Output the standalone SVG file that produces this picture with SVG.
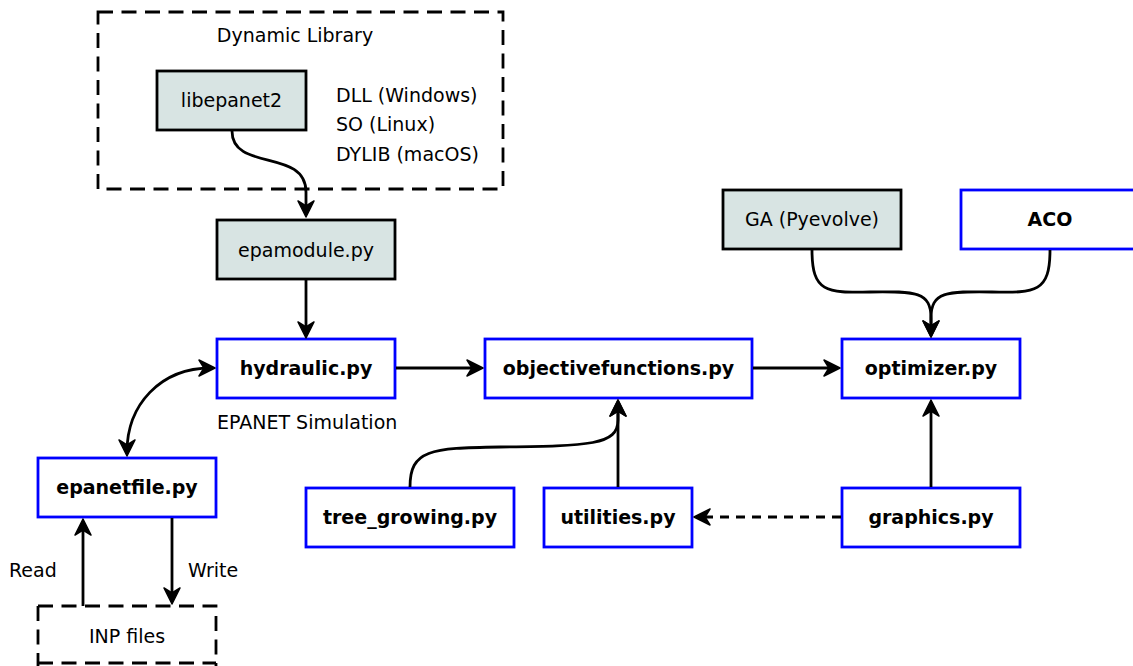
<svg xmlns="http://www.w3.org/2000/svg" width="1133" height="666" viewBox="0 0 1133 666">
  <style>
    text { font-family: "DejaVu Sans", "Liberation Sans", sans-serif; font-size: 19px; fill: #000; }
    .c { text-anchor: middle; }
    .b { font-weight: bold; }
    .lib { fill: #d8e4e3; stroke: #000; stroke-width: 2.8; }
    .mod { fill: #fff; stroke: #0000ff; stroke-width: 2.8; }
    .group { fill: none; stroke: #000; stroke-width: 2.8; stroke-dasharray: 15 8.5; }
    .edge { fill: none; stroke: #000; stroke-width: 2.8; marker-end: url(#head); }
    .dash { stroke-dasharray: 9 7; }
  </style>
  <defs>
    <marker id="head" markerUnits="userSpaceOnUse" viewBox="-20 -10 30 20" refX="-4" refY="0" markerWidth="30" markerHeight="20" orient="auto-start-reverse" overflow="visible">
      <path d="M0,0 L-16,-8 L-11,0 L-16,8 Z" fill="#000" stroke="#000" stroke-width="1.5" stroke-linejoin="round" stroke-dasharray="none"/>
    </marker>
  </defs>

  <!-- groupings -->
  <g id="dynamic-library">
    <rect class="group" x="98" y="12" width="405" height="177"/>
    <text class="c" x="295" y="42">Dynamic Library</text>
    <text x="336" y="102">DLL (Windows)</text>
    <text x="336" y="131">SO (Linux)</text>
    <text x="336" y="161">DYLIB (macOS)</text>
  </g>
  <g id="inp-files">
    <path class="group" d="M38,606 H216 V680 M38,606 V680" stroke-dasharray="12 9"/>
    <path class="group" d="M38,663 H216" stroke-dasharray="12 9"/>
    <text class="c" x="127" y="643">INP files</text>
  </g>

  <!-- nodes -->
  <g id="libepanet2">
    <rect class="lib" x="157" y="71" width="149" height="59"/>
    <text class="c" x="231.5" y="107">libepanet2</text>
  </g>
  <g id="epamodule">
    <rect class="lib" x="217" y="220" width="178" height="59"/>
    <text class="c" x="306" y="257">epamodule.py</text>
  </g>
  <g id="hydraulic">
    <rect class="mod" x="217" y="339" width="178" height="59"/>
    <text class="c b" x="306" y="375">hydraulic.py</text>
    <text x="217" y="429">EPANET Simulation</text>
  </g>
  <g id="objectivefunctions">
    <rect class="mod" x="485" y="339" width="267" height="59"/>
    <text class="c b" x="618.5" y="375">objectivefunctions.py</text>
  </g>
  <g id="optimizer">
    <rect class="mod" x="842" y="339" width="178" height="59"/>
    <text class="c b" x="931" y="375">optimizer.py</text>
  </g>
  <g id="ga">
    <rect class="lib" x="723" y="190" width="178" height="59"/>
    <text class="c" x="812" y="226">GA (Pyevolve)</text>
  </g>
  <g id="aco">
    <rect class="mod" x="961" y="190" width="178" height="59"/>
    <text class="c b" x="1050" y="226">ACO</text>
  </g>
  <g id="epanetfile">
    <rect class="mod" x="38" y="458" width="178" height="59"/>
    <text class="c b" x="127" y="494">epanetfile.py</text>
  </g>
  <g id="tree-growing">
    <rect class="mod" x="306" y="488" width="208" height="59"/>
    <text class="c b" x="410" y="524">tree_growing.py</text>
  </g>
  <g id="utilities">
    <rect class="mod" x="544" y="488" width="148" height="59"/>
    <text class="c b" x="618" y="524">utilities.py</text>
  </g>
  <g id="graphics">
    <rect class="mod" x="842" y="488" width="178" height="59"/>
    <text class="c b" x="931" y="524">graphics.py</text>
  </g>

  <!-- connectors -->
  <g id="connectors">
    <path class="edge" d="M232,131 C232,172 306,148 306,192 L306,213"/>
    <path class="edge" d="M306,280 L306,334"/>
    <path class="edge" d="M396,368 L479,368"/>
    <path class="edge" d="M753,368 L836,368"/>
    <path class="edge" d="M812,250 C812,292 826,293 870,292 C916,291 931,292 931,318 L931,333"/>
    <path class="edge" d="M1050,250 C1050,292 1036,293 992,292 C946,291 931,292 931,318 L931,333"/>
    <path class="edge" d="M931,487 L931,404"/>
    <path class="edge" d="M618,487 L618,404"/>
    <path class="edge" d="M410,487 C410,450 430,448 500,447 C590,446 618,445 618,420 L618,404"/>
    <path class="edge dash" d="M841,517 L698,517"/>
    <path class="edge" d="M127,452 C127,405 160,368 211,368" marker-start="url(#head)"/>
    <path class="edge" d="M83,606 L83,523"/>
    <path class="edge" d="M172,518 L172,600"/>
    <text x="9" y="577">Read</text>
    <text x="188" y="577">Write</text>
  </g>
</svg>
